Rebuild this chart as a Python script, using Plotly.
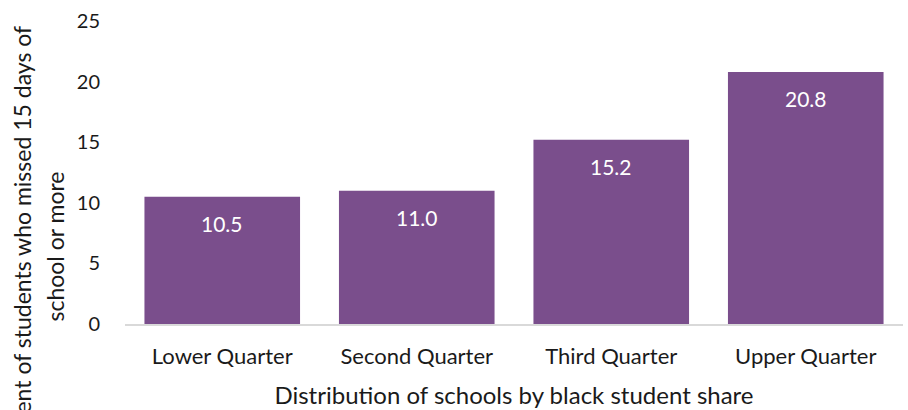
import plotly.graph_objects as go

# Chronic absence by school racial composition
categories = ["Lower Quarter", "Second Quarter", "Third Quarter", "Upper Quarter"]
values = [10.5, 11.0, 15.2, 20.8]
y_ticks = [0, 5, 10, 15, 20, 25]

x_title = "Distribution of schools by black student share"
y_title_lines = ["Percent of students who missed 15 days of", "school or more"]

BAR = "#7A4E8C"
FONT = "Lato"
TXT = "#1a1a1a"

fig = go.Figure(
    go.Bar(
        x=categories,
        y=values,
        marker=dict(color=BAR, line=dict(width=0)),
        width=0.8,
        hoverinfo="skip",
    )
)

# value labels inside the top of each bar
for cat, v in zip(categories, values):
    fig.add_annotation(
        x=cat, y=v, xref="x", yref="y",
        text=f"{v:.1f}", showarrow=False,
        yanchor="middle", yshift=-27,
        font=dict(family=FONT, size=21, color="white"),
    )

# two-line rotated y-axis title
plot_left, plot_w = 125, 778
plot_bottom, plot_h = 326, 305
for line, xc, yc in zip(y_title_lines, [22, 55], [243, 248]):
    fig.add_annotation(
        xref="paper", yref="paper",
        x=(xc - plot_left) / plot_w, y=(plot_bottom - yc) / plot_h,
        text=line, textangle=-90, showarrow=False,
        xanchor="center", yanchor="middle",
        font=dict(family=FONT, size=23, color=TXT),
    )

fig.update_layout(
    width=908, height=410,
    margin=dict(l=125, r=5, t=21, b=84),
    paper_bgcolor="white", plot_bgcolor="white",
    font=dict(family=FONT, size=20, color=TXT),
    showlegend=False,
    bargap=0.2,
    xaxis=dict(
        showgrid=False, zeroline=False,
        showline=True, linecolor="#D9D9D9", linewidth=2,
        ticks="outside", ticklen=12, tickcolor="rgba(0,0,0,0)",
        tickfont=dict(family=FONT, size=22, color=TXT),
        title=dict(text=x_title, standoff=19,
                   font=dict(family=FONT, size=24, color=TXT)),
    ),
    yaxis=dict(
        range=[0, 25], tickvals=y_ticks,
        showgrid=False, zeroline=False, showline=False,
        ticks="outside", ticklen=20, tickcolor="rgba(0,0,0,0)",
        tickfont=dict(family=FONT, size=20, color=TXT),
    ),
)

fig.write_html("out.html")
